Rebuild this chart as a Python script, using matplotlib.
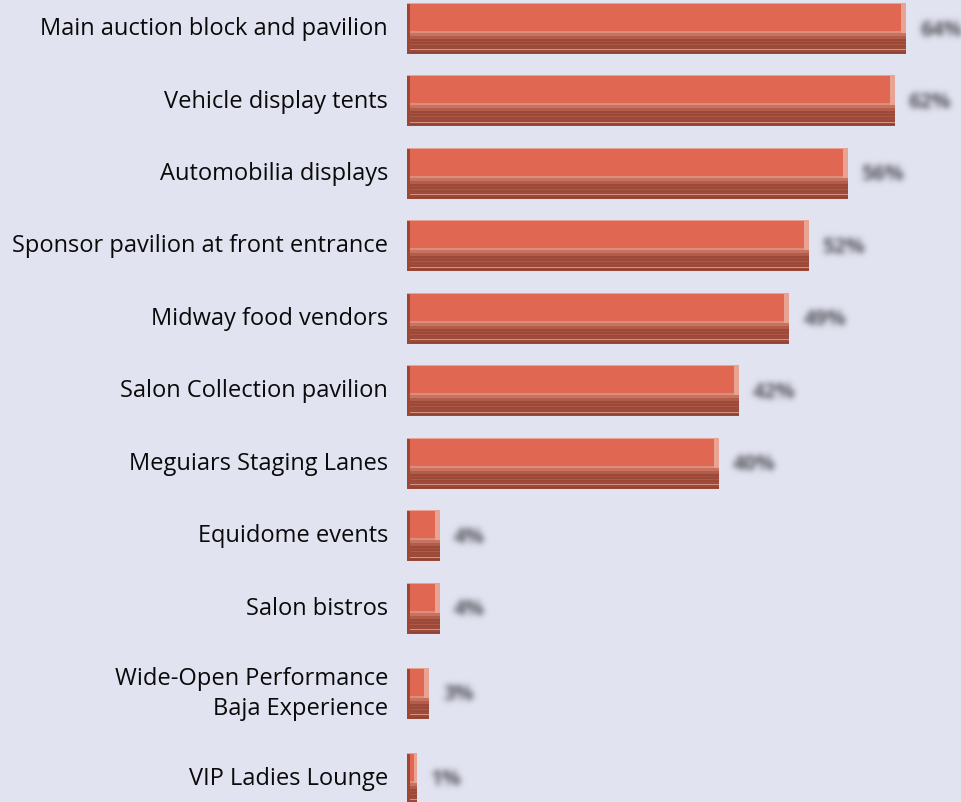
import numpy as np
import matplotlib
matplotlib.use("Agg")
import matplotlib.pyplot as plt

# Venue areas and share of visitors (%)
areas = [
    "Main auction block and pavilion",
    "Vehicle display tents",
    "Automobilia displays",
    "Sponsor pavilion at front entrance",
    "Midway food vendors",
    "Salon Collection pavilion",
    "Meguiars Staging Lanes",
    "Equidome events",
    "Salon bistros",
    "Wide-Open Performance\nBaja Experience",
    "VIP Ladies Lounge",
]
shares = [64, 62.5, 56.5, 51.5, 49, 42.5, 40, 4.2, 4.2, 2.8, 1.3]

BG = "#e1e3f0"
FACE = "#e06852"
DARK = "#9b4939"
W, H = 961, 803
PX = 7.8            # pixels per percent
X0 = 407            # pixel column of the zero line
ROW = 72.5          # row height for a single-line label
LINE = 25           # extra height per additional label line
BAR_H = 51


def blur_filter(sigma, rgb, gain=1.0):
    def f(im, dpi):
        pad = int(sigma * 3)
        a = np.pad(im[..., 3], pad)
        k = np.exp(-0.5 * (np.arange(-pad, pad + 1) / sigma) ** 2)
        k /= k.sum()
        for axis in (0, 1):
            out = np.zeros_like(a)
            for i, w in enumerate(k):
                out += w * np.roll(a, i - pad, axis=axis)
            a = out
        res = np.zeros(a.shape + (4,), dtype=im.dtype)
        res[..., :3] = rgb
        res[..., 3] = np.clip(a * gain, 0, 1)
        return res, -pad, -pad
    return f


# row centres in pixel units; taller rows for two-line labels
centres = []
top = 29 - ROW / 2
for lab in areas:
    h = ROW + LINE * lab.count("\n")
    centres.append(top + h / 2)
    top += h
centres = np.array(centres)
vals = np.array(shares)

fig = plt.figure(figsize=(W / 100, H / 100), dpi=100, facecolor=BG)
ax = fig.add_axes([X0 / W, 0, (W - X0) / W, 1])
ax.set_facecolor(BG)
ax.set_xlim(0, (W - X0) / PX)
ax.set_ylim(H, 0)
ax.axis("off")

yt = centres - BAR_H / 2   # top edge of each bar
px = 1 / PX               # one pixel in data units along x


def layer(y0, h, color, left=0, width=None):
    ax.barh(yt + y0 + h / 2, vals if width is None else width, height=h,
            left=left, color=color, linewidth=0)


# front face and the darker lower lip of each bar
layer(0, 28, FACE)
layer(28, 2, "#d98e80")
layer(30, 3, "#c8725f")
layer(33, 3, "#b35c4a")
layer(36, BAR_H - 36, DARK)
for y0, c in [(38, "#a8503f"), (41, "#b05847"), (44, "#a04d3c"),
              (46.5, "#d49484"), (49, "#8f4233")]:
    layer(y0, 1, c)
# side shading
edge_l = np.minimum(3 * px, vals / 3)
edge_r = np.minimum(5 * px, vals / 3)
layer(0, BAR_H, "#a24634", width=edge_l)
layer(0, 30, "#e9a393", left=vals - edge_r, width=edge_r)
layer(0, 1, "#e9a393")

# blurred value labels
for c, v in zip(centres, vals):
    t = ax.text(v + 14 * px, c + 1, f"{v:.0f}%", ha="left", va="center",
                fontsize=15, fontweight="bold", color="#777780",
                family="Open Sans", clip_on=False)
    t.set_agg_filter(blur_filter(3.0, (0.50, 0.50, 0.54), gain=1.45))

# category labels
for c, lab in zip(centres, areas):
    fig.text(388 / W, 1 - c / H, lab, ha="right", va="center",
             fontsize=17, family="Open Sans", color="#0a0a0a",
             linespacing=1.32, multialignment="right")

fig.savefig("out.png", dpi=100, facecolor=BG)
